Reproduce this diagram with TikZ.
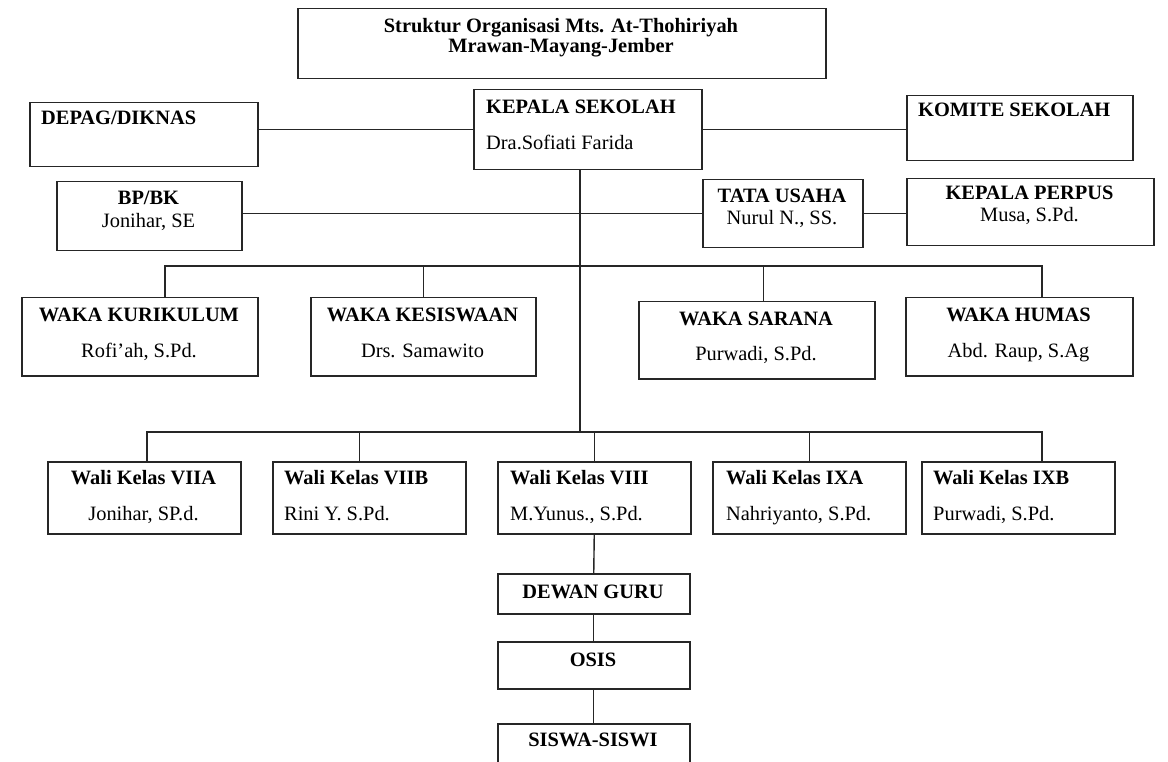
\documentclass[tikz,border=0pt]{standalone}
\usepackage{fontspec}
\setmainfont{Liberation Serif}
\begin{document}
\begin{tikzpicture}[x=1pt,y=-1pt]
		\tikzset{box/.style = {draw=black!85, line width=1.5pt, anchor=north west, inner sep=0pt},
			hd/.style = {font=\fontsize{20.4}{17}\selectfont\bfseries, inner sep=0pt, anchor=base},
			nm/.style = {font=\fontsize{20.4}{17}\selectfont, inner sep=0pt, anchor=base},
			link/.style = {draw=black!85, line width=1.4pt}}

		\useasboundingbox (0,0) rectangle (1168,762);

		% boxes
		\node[box, minimum width=528, minimum height=70] (T) at (297,8) {};
		\node[box, minimum width=228, minimum height=80] (K) at (473,89) {};
		\node[box, minimum width=228, minimum height=64] (D) at (29,102) {};
		\node[box, minimum width=226, minimum height=65] (KM) at (906,95) {};
		\node[box, minimum width=185, minimum height=69] (BK) at (56,181) {};
		\node[box, minimum width=160, minimum height=68] (TU) at (702,179) {};
		\node[box, minimum width=247, minimum height=67] (KP) at (906,178) {};
		\node[box, minimum width=236, minimum height=78] (W_1) at (21,297) {};
		\node[box, minimum width=225, minimum height=78] (W_2) at (310,297) {};
		\node[box, minimum width=236, minimum height=77] (W_3) at (638,301) {};
		\node[box, minimum width=227, minimum height=78] (W_4) at (905,297) {};
		\foreach \x [count=\i] in {47,272,497,712,921}
			\node[box, minimum width=193, minimum height=72] (G_\i) at (\x,461) {};
		\node[box, minimum width=192, minimum height=40] (DG) at (497,573) {};
		\node[box, minimum width=192, minimum height=47] (OS) at (497,641) {};
		\node[box, minimum width=192, minimum height=52] (SS) at (497,723) {};

		% texts
		\node[hd, anchor=north, align=center] (T_1) at (561,18) {Struktur Organisasi Mts. At-Thohiriyah\\Mrawan-Mayang-Jember};
		\node[hd, anchor=base west] (K_1) at (486,114) {KEPALA SEKOLAH};
		\node[nm, anchor=base west] (K_2) at (486,150) {Dra.Sofiati Farida};
		\node[hd, anchor=base west] (D_1) at (41,125) {DEPAG/DIKNAS};
		\node[hd, anchor=base west] (KM_1) at (918,117) {KOMITE SEKOLAH};
		\node[hd] (BK_1) at (148.5,205) {BP/BK};
		\node[nm] (BK_2) at (148.5,228) {Jonihar, SE};
		\node[hd] (TU_1) at (782,203) {TATA USAHA};
		\node[nm] (TU_2) at (782,225) {Nurul N., SS.};
		\node[hd] (KP_1) at (1029.5,200) {KEPALA PERPUS};
		\node[nm] (KP_2) at (1029.5,222) {Musa, S.Pd.};

		\node[hd] (W_1a) at (139,322) {WAKA KURIKULUM};
		\node[nm] (W_1b) at (139,357) {Rofi'ah, S.Pd.};
		\node[hd] (W_2a) at (422.5,322) {WAKA KESISWAAN};
		\node[nm] (W_2b) at (422.5,357) {Drs. Samawito};
		\node[hd] (W_3a) at (756,325) {WAKA SARANA};
		\node[nm] (W_3b) at (756,360) {Purwadi, S.Pd.};
		\node[hd] (W_4a) at (1018.5,322) {WAKA HUMAS};
		\node[nm] (W_4b) at (1018.5,357) {Abd. Raup, S.Ag};

		\node[hd] (G_1a) at (143.5,484) {Wali Kelas VIIA};
		\node[nm] (G_1b) at (143.5,520) {Jonihar, SP.d.};
		\node[hd, anchor=base west] (G_2a) at (284,484) {Wali Kelas VIIB};
		\node[nm, anchor=base west] (G_2b) at (284,520) {Rini Y. S.Pd.};
		\node[hd, anchor=base west] (G_3a) at (510,484) {Wali Kelas VIII};
		\node[nm, anchor=base west] (G_3b) at (510,520) {M.Yunus., S.Pd.};
		\node[hd, anchor=base west] (G_4a) at (726,484) {Wali Kelas IXA};
		\node[nm, anchor=base west] (G_4b) at (726,520) {Nahriyanto, S.Pd.};
		\node[hd, anchor=base west] (G_5a) at (933,484) {Wali Kelas IXB};
		\node[nm, anchor=base west] (G_5b) at (933,520) {Purwadi, S.Pd.};

		\node[hd] (DG_1) at (593,598) {DEWAN GURU};
		\node[hd] (OS_1) at (593,666) {OSIS};
		\node[hd] (SS_1) at (593,746) {SISWA-SISWI};

		% lines
		\coordinate (J) at (580,432);
		\coordinate (wb_1) at (165,266);
		\coordinate (wb_4) at (1042,266);
		\coordinate (gb_1) at (147,432);
		\coordinate (gb_5) at (1042,432);

		\draw[link] (K.west) -- (K.west -| D.east);
		\draw[link] (K.east) -- (K.east -| KM.west);
		\draw[link] (TU.west) -- (TU.west -| BK.east);
		\draw[link] (TU.east) -- (TU.east -| KP.west);
		\draw[link] (K.south -| J) -- (J);
		\draw[link] (W_1.north -| wb_1) -- (wb_1) -- (wb_4) -- (W_4.north -| wb_4);
		\draw[link] (W_2.north) -- (W_2.north |- wb_1);
		\draw[link] ([xshift=7]W_3.north) -- ([xshift=7]W_3.north |- wb_1);
		\draw[link] (G_1.north -| gb_1) -- (gb_1) -- (gb_5) -- (G_5.north -| gb_5);
		\draw[link] ([xshift=-10]G_2.north) -- ([xshift=-10]G_2.north |- gb_1);
		\draw[link] (G_3.north) -- (G_3.north |- gb_1);
		\draw[link] (G_4.north) -- (G_4.north |- gb_1);
		\draw[link] (G_3.south) -- (DG.north);
		\draw[link] (DG.south) -- (OS.north);
		\draw[link] (OS.south) -- (SS.north);

	\end{tikzpicture}
\end{document}
